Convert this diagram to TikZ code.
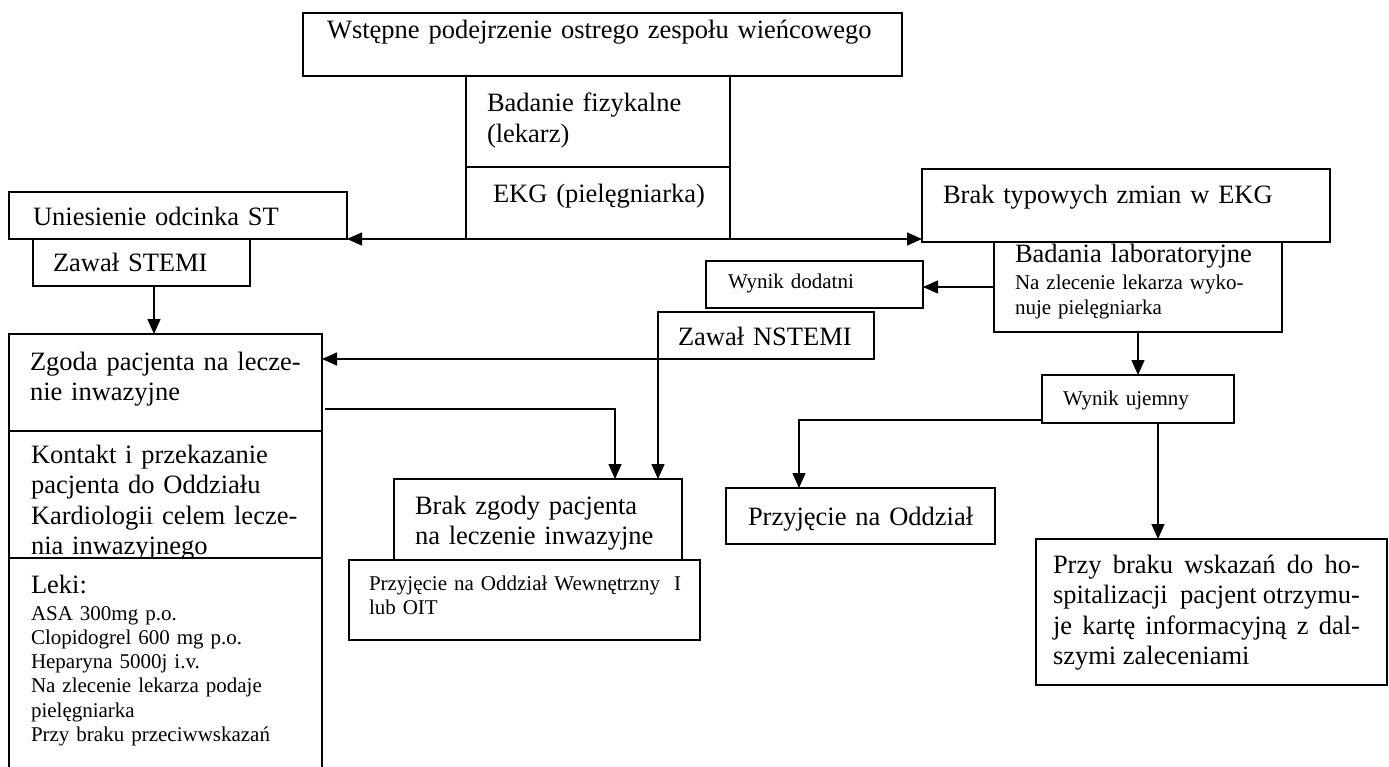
\documentclass[tikz,border=0pt]{standalone}
\usepackage{fontspec}
\setmainfont{Liberation Serif}
\usetikzlibrary{arrows.meta,calc}
\tikzset{
  box/.style={draw, line width=1.7pt, inner sep=0pt, outer sep=0pt, anchor=north west, fill=white},
  big/.style={font=\fontsize{26.5}{30.5}\selectfont},
  sml/.style={font=\fontsize{21}{24.3}\selectfont},
  txt/.style={inner sep=0pt, outer sep=0pt, anchor=north west, text width=800pt, align=left},
  arr/.style={line width=1.5pt, -{Triangle[length=15pt,width=13pt]}},
  arrb/.style={line width=1.5pt, {Triangle[length=15pt,width=13pt]}-{Triangle[length=15pt,width=13pt]}},
}
\newcommand\bx[5]{\node[box, minimum width={#4pt-#2pt}, minimum height={#5pt-#3pt}] (#1) at (#2,#3) {};}
\newcommand\tx[5]{\node[txt,#4] (#1) at (#2,#3-20) {\hyphenpenalty=10000\hbadness=10000\rule{0pt}{20pt}#5};}
\begin{document}
\begin{tikzpicture}[x=1pt,y=-1pt]
\useasboundingbox[fill=white] (0,0) rectangle (1389,767);
% top
\bx{A}{303}{13}{902}{76}
\tx{At}{327}{39}{big}{Wstępne podejrzenie ostrego zespołu wieńcowego}
\bx{B}{466}{76}{730}{167}
\tx{Bt}{487}{112}{big}{Badanie fizykalne\\(lekarz)}
\bx{B2}{466}{167}{730}{239}
\tx{B2t}{493}{203}{big}{EKG (pielęgniarka)}
% left column
\bx{C}{9}{192}{347}{239}
\tx{Ct}{33}{226}{big}{Uniesienie odcinka ST}
\bx{C2}{33}{239}{250}{286}
\tx{C2t}{53}{272}{big}{Zawał STEMI}
\bx{E}{9}{334}{322}{431}
\tx{Et}{30}{370}{big}{Zgoda pacjenta na lecze-\\nie inwazyjne}
\bx{F}{9}{431}{322}{558}
\tx{Ft}{31}{463}{big}{Kontakt i przekazanie\\pacjenta do Oddziału\\Kardiologii celem lecze-\\nia inwazyjnego}
\bx{G}{9}{558}{322}{780}
\tx{Gt}{31}{593}{big}{Leki:}
\tx{Gs}{31}{620}{sml}{ASA 300mg p.o.\\Clopidogrel 600 mg p.o.\\Heparyna 5000j i.v.\\Na zlecenie lekarza podaje\\pielęgniarka\\Przy braku przeciwwskazań}
% right
\bx{D}{922}{169}{1330}{242}
\tx{Dt}{943}{204}{big}{Brak typowych zmian w EKG}
\bx{H}{994}{242}{1282}{332}
\tx{Ht}{1015}{263}{big}{Badania laboratoryjne}
\tx{Hs}{1015}{290}{sml}{Na zlecenie lekarza wyko-\\nuje pielęgniarka}
\bx{WD}{706}{261}{923}{308}
\tx{WDt}{728}{289}{sml}{Wynik dodatni}
\bx{NS}{658}{312}{874}{359}
\tx{NSt}{678}{345}{big}{Zawał NSTEMI}
\bx{BZ}{394}{479}{682}{560}
\tx{BZt}{415}{514}{big}{Brak zgody pacjenta\\na leczenie inwazyjne}
\bx{OW}{349}{560}{700}{640}
\tx{OWt}{369}{590}{sml}{Przyjęcie na Oddział Wewnętrzny\ \ I\\lub OIT}
\bx{WU}{1042}{375}{1234}{423}
\tx{WUt}{1063}{405}{sml}{Wynik ujemny}
\bx{PO}{726}{488}{995}{544}
\tx{POt}{748}{525}{big}{Przyjęcie na Oddział}
\bx{PB}{1036}{539}{1387}{685}
\tx{PBt}{1053}{573}{big,text width=307pt,align=justify}{Przy braku wskazań do ho-\linebreak spitalizacji\ \ pacjent otrzymu-\linebreak je kartę informacyjną z dal-\linebreak szymi zaleceniami}
% connectors
\coordinate (c2o) at ($(C2.south west)+(121,0)$);
\draw[arr] (c2o) -- (c2o |- E.north);
\draw[arrb] (C.south east) -- (C.south east -| D.west);
\draw[arr] (H.west) -- (H.west -| WD.east);
\draw[arr] (NS.south west) -- (NS.south west -| E.east);
\draw[arr] (NS.south west) -- (NS.south west |- BZ.north);
\coordinate (e1) at ($(E.north east)+(3,75)$);
\coordinate (bzin) at ($(BZ.north west)+(221,0)$);
\draw[arr] (e1) -| (bzin);
\draw[arr] (H.south -| WU.north) -- (WU.north);
\coordinate (wu1) at ($(WU.south west)+(0,-3)$);
\coordinate (poin) at ($(PO.north west)+(73,0)$);
\draw[arr] (wu1) -| (poin);
\coordinate (wu2) at ($(WU.south west)+(116,0)$);
\draw[arr] (wu2) -- (wu2 |- PB.north);
\end{tikzpicture}
\end{document}
